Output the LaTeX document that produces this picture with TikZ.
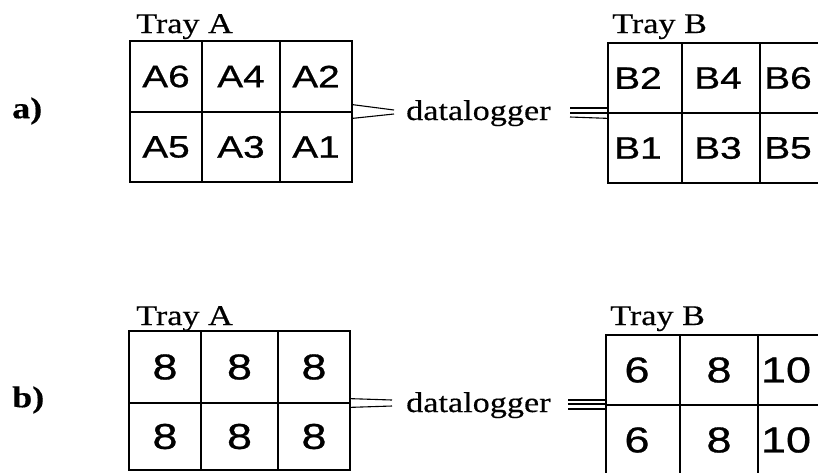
\documentclass[tikz,border=0pt]{standalone}
\usepackage{fontspec}
\usetikzlibrary{calc}
\setmainfont{Liberation Serif}[FakeStretch=1.2,FakeBold=0.4]
\newfontfamily\cellfont{Liberation Sans}[FakeStretch=1.25,FakeBold=0.8]
\begin{document}
\begin{tikzpicture}[x=1pt,y=-1pt,
  cell/.style={draw,line width=1.3pt,inner sep=0pt,font=\cellfont\fontsize{31}{33}\selectfont},
  numcell/.style={cell,font=\cellfont\fontsize{36}{38}\selectfont},
  lab/.style={inner sep=0pt,font=\cellfont\fontsize{31}{33}\selectfont},
  numlab/.style={inner sep=0pt,font=\cellfont\fontsize{36}{38}\selectfont},
  txt/.style={anchor=base west,inner sep=0pt,font=\fontsize{28.5}{30}\selectfont},
  part/.style={anchor=west,inner sep=0pt,font=\bfseries\fontsize{30}{32}\selectfont},
  wire/.style={line width=1.1pt}]
\useasboundingbox (0,0) rectangle (818,472);
% ---------- a) ----------
\node[part] (la) at (12,111) {a)};
\node[txt] (ta) at (136,33) {Tray A};
\node[cell,minimum width=72pt,minimum height=71pt] (a6) at (166,76.5) {A6};
\node[cell,minimum width=78pt,minimum height=71pt] (a4) at (241,76.5) {A4};
\node[cell,minimum width=72pt,minimum height=71pt] (a2) at (316,76.5) {A2};
\node[cell,minimum width=72pt,minimum height=70pt] (a5) at (166,147) {A5};
\node[cell,minimum width=78pt,minimum height=70pt] (a3) at (241,147) {A3};
\node[cell,minimum width=72pt,minimum height=70pt] (a1) at (316,147) {A1};
\node[txt] (da) at (406,120) {datalogger};
\node[txt] (tb) at (612,33) {Tray B};
\node[cell,minimum width=74pt,minimum height=70pt,label={[lab,xshift=-7pt]center:B2}] (b2) at (645,78) {};
\node[cell,minimum width=78pt,minimum height=70pt,label={[lab,xshift=-3pt]center:B4}] (b4) at (721,78) {};
\node[cell,minimum width=78pt,minimum height=70pt,label={[lab,xshift=-11pt]center:B6}] (b6) at (799,78) {};
\node[cell,minimum width=74pt,minimum height=70pt,label={[lab,xshift=-7pt]center:B1}] (b1) at (645,148) {};
\node[cell,minimum width=78pt,minimum height=70pt,label={[lab,xshift=-3pt]center:B3}] (b3) at (721,148) {};
\node[cell,minimum width=78pt,minimum height=70pt,label={[lab,xshift=-11pt]center:B5}] (b5) at (799,148) {};
% connectors a)
\coordinate (ca1) at (394,110);
\coordinate (ca2) at (394,114);
\draw[wire] (a2.south east) ++(0,-8) coordinate (sa1) (sa1) -- (ca1);
\draw[wire] (a1.north east) ++(0,7) coordinate (sa2) (sa2) -- (ca2);
\coordinate (cb1) at (570,108);
\coordinate (cb2) at (570,113);
\coordinate (cb3) at (570,117);
\draw[wire] (cb1) -- (b2.south west |- cb1);
\draw[wire] (cb2) -- (b2.south west |- cb2);
\draw[wire] (cb3) -- ($(b1.north west)+(0,6)$);
% ---------- b) ----------
\node[part] (lb) at (12,400) {b)};
\node[txt] (tc) at (136,325) {Tray A};
\node[numcell,minimum width=72pt,minimum height=72pt] (p1) at (165,367) {8};
\node[numcell,minimum width=77pt,minimum height=72pt] (p2) at (239.5,367) {8};
\node[numcell,minimum width=72pt,minimum height=72pt] (p3) at (314,367) {8};
\node[numcell,minimum width=72pt,minimum height=67pt] (p4) at (165,436.5) {8};
\node[numcell,minimum width=77pt,minimum height=67pt] (p5) at (239.5,436.5) {8};
\node[numcell,minimum width=72pt,minimum height=67pt] (p6) at (314,436.5) {8};
\node[txt] (db) at (406,412) {datalogger};
\node[txt] (td) at (610,325) {Tray B};
\node[cell,minimum width=74pt,minimum height=70pt,label={[numlab,xshift=-6pt]center:6}] (q1) at (643,370) {};
\node[cell,minimum width=78pt,minimum height=70pt,label={[numlab]center:8}] (q2) at (719,370) {};
\node[cell,minimum width=78pt,minimum height=70pt,label={[numlab,xshift=-11pt]center:10}] (q3) at (797,370) {};
\node[cell,minimum width=74pt,minimum height=70pt,label={[numlab,xshift=-6pt]center:6}] (q4) at (643,440) {};
\node[cell,minimum width=78pt,minimum height=70pt,label={[numlab]center:8}] (q5) at (719,440) {};
\node[cell,minimum width=78pt,minimum height=70pt,label={[numlab,xshift=-11pt]center:10}] (q6) at (797,440) {};
% connectors b)
\coordinate (cc1) at (392,400);
\coordinate (cc2) at (392,406);
\draw[wire] (p3.south east) ++(0,-5) coordinate (sc1) (sc1) -- (cc1);
\draw[wire] (p6.north east) ++(0,5) coordinate (sc2) (sc2) -- (cc2);
\coordinate (cd1) at (568,400);
\coordinate (cd2) at (568,404);
\coordinate (cd3) at (568,409);
\draw[wire] (cd1) -- (q1.south west |- cd1);
\draw[wire] (cd2) -- (q1.south west |- cd2);
\draw[wire] (cd3) -- (q4.north west |- cd3);
\end{tikzpicture}
\end{document}
